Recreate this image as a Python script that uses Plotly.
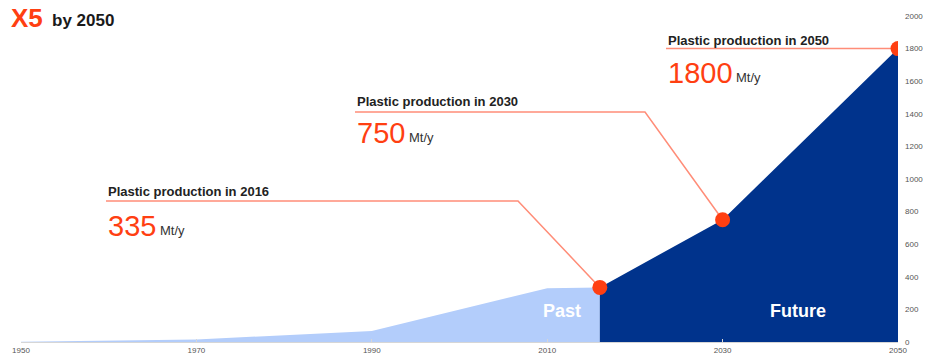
import plotly.graph_objects as go

# ---- data -------------------------------------------------------------
past_years = [1950, 1970, 1990, 2010, 2016]
past_values = [2, 15, 68, 330, 335]          # Mt per year

future_years = [2016, 2030, 2050]
future_values = [335, 750, 1800]             # Mt per year

callout_years = [2016, 2030, 2050]
callout_values = [335, 750, 1800]
callout_titles = ["Plastic production in 2016",
                  "Plastic production in 2030",
                  "Plastic production in 2050"]

x_ticks = [1950, 1970, 1990, 2010, 2030, 2050]
y_ticks = list(range(0, 2001, 200))

# ---- layout geometry ----------------------------------------------------
W, H = 925, 361
M_L, M_R, M_T, M_B = 21, 27, 16, 19
X_RANGE = (1950, 2050)
Y_RANGE = (0, 2000)
PW, PH = W - M_L - M_R, H - M_T - M_B

ORANGE = "#ff3f12"
LEADER = "#ff8d78"
FONT = "Arial, Liberation Sans, sans-serif"


def paper(px, py):
    """Figure pixel -> paper fraction."""
    return (px - M_L) / PW, (H - M_B - py) / PH


def data(px, py):
    """Figure pixel -> axis units."""
    fx, fy = paper(px, py)
    return (X_RANGE[0] + fx * (X_RANGE[1] - X_RANGE[0]),
            Y_RANGE[0] + fy * (Y_RANGE[1] - Y_RANGE[0]))


# text block placement (left edge, underline row, elbow of the leader)
callout_boxes = [
    dict(left=106, line_y=201, elbow_x=518, title_y=191, num_y=226, num_w=50),
    dict(left=355, line_y=112, elbow_x=645, title_y=101, num_y=133, num_w=50),
    dict(left=666, line_y=None, elbow_x=None, title_y=40, num_y=73, num_w=66),
]

fig = go.Figure()

fig.add_trace(go.Scatter(
    x=past_years, y=past_values, mode="lines", fill="tozeroy",
    line=dict(width=0), fillcolor="#b3cdfb", hoverinfo="skip"))
fig.add_trace(go.Scatter(
    x=future_years, y=future_values, mode="lines", fill="tozeroy",
    line=dict(width=0), fillcolor="#00338c", hoverinfo="skip"))

annotations = []
for yr, val, title, box in zip(callout_years, callout_values,
                               callout_titles, callout_boxes):
    # leader line: underline under the title, then a diagonal to the point
    x0, y_line = data(box["left"], box["line_y"] if box["line_y"] else 0)
    if box["elbow_x"] is None:
        xs = [x0, yr]
        ys = [val, val]
        title_py = box["title_y"]
    else:
        xe, _ = data(box["elbow_x"], box["line_y"])
        xs = [x0, xe, yr]
        ys = [y_line, y_line, val]
        title_py = box["title_y"]
    fig.add_trace(go.Scatter(x=xs, y=ys, mode="lines",
                             line=dict(color=LEADER, width=1.5),
                             hoverinfo="skip"))

    ax, ay = paper(box["left"], title_py)
    annotations.append(dict(
        xref="paper", yref="paper", x=ax, y=ay, xanchor="left",
        yanchor="middle", showarrow=False, text=f"<b>{title}</b>",
        font=dict(family=FONT, size=13, color="#222222")))
    nx, ny = paper(box["left"], box["num_y"])
    annotations.append(dict(
        xref="paper", yref="paper", x=nx, y=ny, xanchor="left",
        yanchor="middle", showarrow=False, text=f"{val}",
        font=dict(family=FONT, size=29, color=ORANGE)))
    ux, uy = paper(box["left"] + box["num_w"] + 2, box["num_y"] + 4)
    annotations.append(dict(
        xref="paper", yref="paper", x=ux, y=uy, xanchor="left",
        yanchor="middle", showarrow=False, text="Mt/y",
        font=dict(family=FONT, size=13, color="#333333")))

# points on top
fig.add_trace(go.Scatter(
    x=callout_years, y=callout_values, mode="markers",
    marker=dict(size=15, color=ORANGE, line=dict(width=0)),
    hoverinfo="skip"))

# title
tx, ty = paper(9, 18)
annotations.append(dict(xref="paper", yref="paper", x=tx, y=ty,
                        xanchor="left", yanchor="middle", showarrow=False,
                        text="<b>X5</b>",
                        font=dict(family=FONT, size=26, color=ORANGE)))
tx, ty = paper(50, 20)
annotations.append(dict(xref="paper", yref="paper", x=tx, y=ty,
                        xanchor="left", yanchor="middle", showarrow=False,
                        text="<b>by 2050</b>",
                        font=dict(family=FONT, size=17, color="#1a1a1a")))

# region labels
for label, px in (("Past", 562), ("Future", 798)):
    lx, ly = paper(px, 311)
    annotations.append(dict(xref="paper", yref="paper", x=lx, y=ly,
                            xanchor="center", yanchor="middle",
                            showarrow=False, text=f"<b>{label}</b>",
                            font=dict(family=FONT, size=18, color="white")))

fig.update_layout(
    width=W, height=H,
    margin=dict(l=M_L, r=M_R, t=M_T, b=M_B, pad=0),
    paper_bgcolor="white", plot_bgcolor="white",
    showlegend=False,
    annotations=annotations,
    xaxis=dict(range=list(X_RANGE), tickvals=x_ticks,
               ticktext=[str(t) for t in x_ticks],
               showgrid=False, zeroline=False, showline=True,
               linecolor="#d6d6d6", linewidth=1,
               ticks="inside", ticklen=3, tickcolor="#d6d6d6",
               tickfont=dict(family=FONT, size=8, color="#555555"),
               fixedrange=True, automargin=False),
    yaxis=dict(range=list(Y_RANGE), tickvals=y_ticks, side="right",
               showgrid=False, zeroline=False, showline=False,
               ticks="", ticklabelstandoff=6,
               tickfont=dict(family=FONT, size=8, color="#555555"),
               fixedrange=True, automargin=False),
)

fig.write_html("out.html")
